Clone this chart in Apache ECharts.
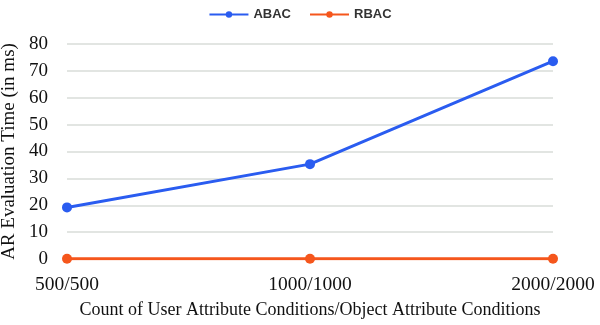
<!DOCTYPE html>
<html><head><meta charset="utf-8">
<script src="https://cdn.jsdelivr.net/npm/echarts@6/dist/echarts.min.js"></script>
<style>html,body{margin:0;padding:0;background:#fff}#c{width:600px;height:325px}</style>
</head><body><div id="c"></div>
<script>
var categories = ['500/500', '1000/1000', '2000/2000'];
var abac = [19.2, 35.3, 73.6];
var rbac = [0.1, 0.1, 0.1];
var yTicks = [0, 10, 20, 30, 40, 50, 60, 70, 80];

var chart = echarts.init(document.getElementById('c'));
var serif = '"Liberation Serif", "DejaVu Serif", serif';
chart.setOption({
  animation: false,
  legend: {
    top: 3, left: 'center', itemWidth: 39, itemHeight: 8, itemGap: 18,
    textStyle: { fontFamily: 'Liberation Sans, Arial, sans-serif', fontSize: 13, color: '#333', fontWeight: 'bold' },
    data: ['ABAC', 'RBAC']
  },
  grid: { left: 67, right: 47, top: 44, bottom: 66, containLabel: false, outerBoundsMode: 'none' },
  xAxis: {
    type: 'category', data: categories, boundaryGap: false,
    name: 'Count of User Attribute Conditions/Object Attribute Conditions',
    nameLocation: 'middle', nameGap: 42,
    nameTextStyle: { fontFamily: serif, fontSize: 18, color: '#111' },
    axisLine: { show: true, lineStyle: { color: '#d9dcd9' } },
    axisTick: { show: false },
    axisLabel: { fontFamily: serif, fontSize: 19.5, color: '#111', margin: 16 }
  },
  yAxis: {
    type: 'value', min: yTicks[0], max: yTicks[yTicks.length - 1], interval: 10,
    name: 'AR Evaluation Time (in ms)', nameLocation: 'middle', nameGap: 45,
    nameTextStyle: { fontFamily: serif, fontSize: 19, color: '#111' },
    axisLine: { show: false }, axisTick: { show: false },
    axisLabel: { fontFamily: serif, fontSize: 19, color: '#111', margin: 19 },
    splitLine: { lineStyle: { color: '#d9dcd9', width: 1.5 } }
  },
  series: [
    { name: 'ABAC', type: 'line', data: abac, symbol: 'circle', symbolSize: 10,
      lineStyle: { color: '#2a5cf0', width: 3 }, itemStyle: { color: '#2a5cf0' }, z: 3 },
    { name: 'RBAC', type: 'line', data: rbac, symbol: 'circle', symbolSize: 10,
      lineStyle: { color: '#f5561c', width: 3 }, itemStyle: { color: '#f5561c' }, z: 4 }
  ]
});
</script></body></html>
